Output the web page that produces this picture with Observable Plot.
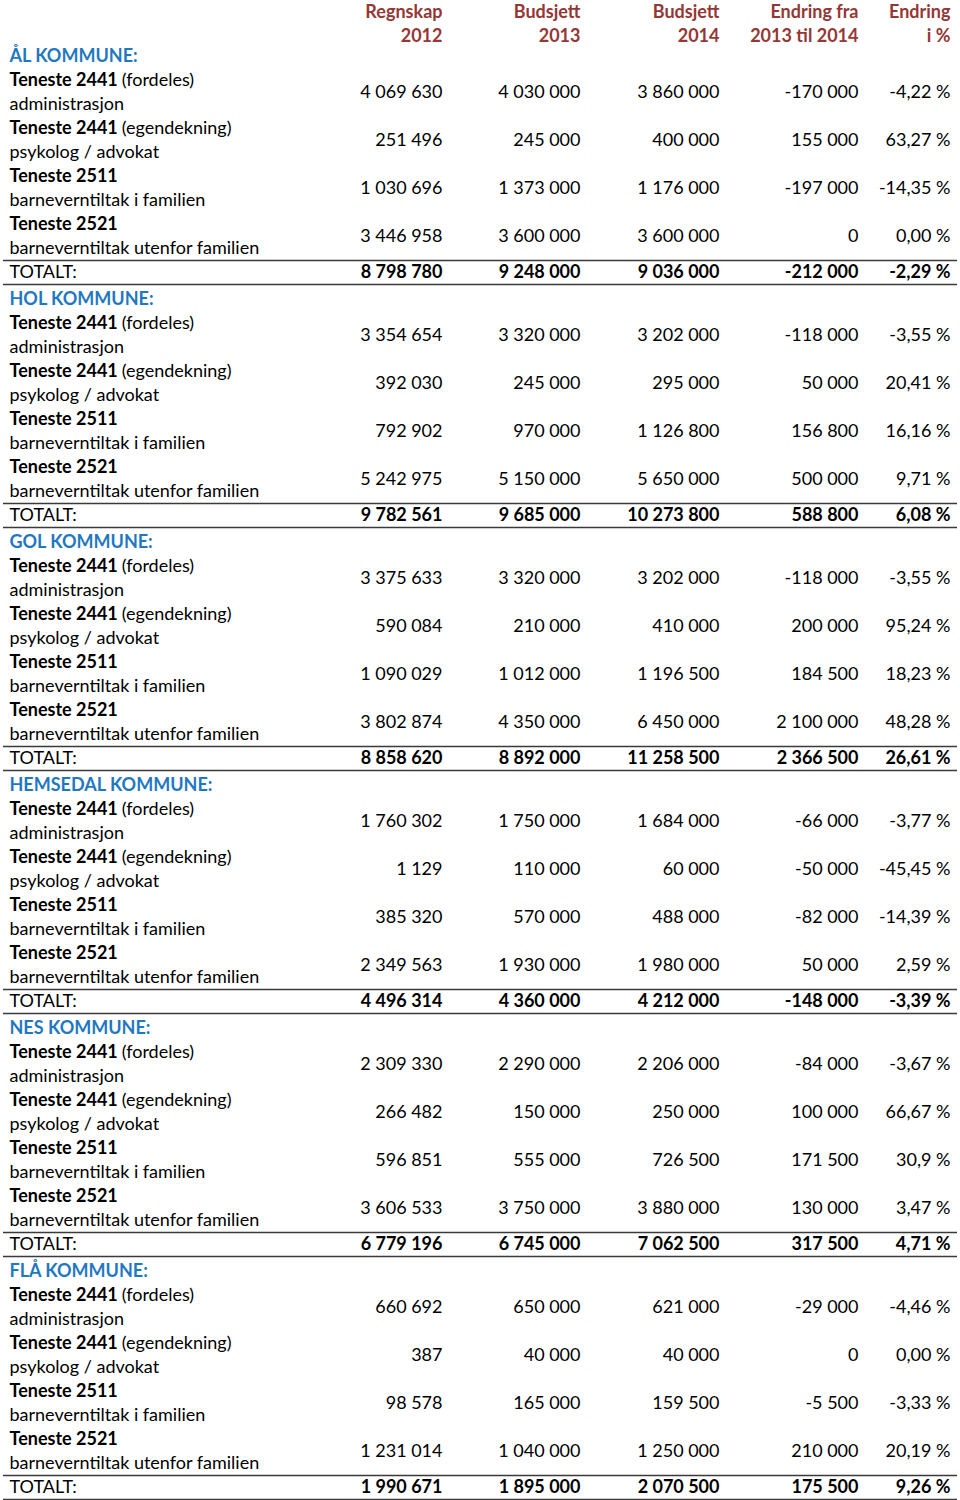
<!DOCTYPE html>
<html>
<head>
<meta charset="utf-8">
<script src="https://cdn.jsdelivr.net/npm/d3@7"></script>
<script src="https://cdn.jsdelivr.net/npm/@observablehq/plot@0.6"></script>
<style>
  html, body { margin: 0; padding: 0; background: #fff; }
  #chart svg { display: block; }
</style>
</head>
<body>
<div id="chart"></div>
<script>
// ---------- DATA ----------
const kommuner = ["ÅL KOMMUNE:", "HOL KOMMUNE:", "GOL KOMMUNE:", "HEMSEDAL KOMMUNE:", "NES KOMMUNE:", "FLÅ KOMMUNE:"];
const tenesteCodes = ["Teneste 2441", "Teneste 2441", "Teneste 2511", "Teneste 2521"];
const tenesteSuffix = ["(fordeles)", "(egendekning)", "", ""];
const tenesteSecond = ["administrasjon", "psykolog / advokat", "barneverntiltak i familien", "barneverntiltak utenfor familien"];
const columnHeads1 = ["Regnskap", "Budsjett", "Budsjett", "Endring fra", "Endring"];
const columnHeads2 = ["2012", "2013", "2014", "2013 til 2014", "i %"];
const totalLabel = "TOTALT:";

// per kommune, 4 teneste rows each
const regnskap2012 = [4069630, 251496, 1030696, 3446958,  3354654, 392030, 792902, 5242975,  3375633, 590084, 1090029, 3802874,  1760302, 1129, 385320, 2349563,  2309330, 266482, 596851, 3606533,  660692, 387, 98578, 1231014];
const budsjett2013 = [4030000, 245000, 1373000, 3600000,  3320000, 245000, 970000, 5150000,  3320000, 210000, 1012000, 4350000,  1750000, 110000, 570000, 1930000,  2290000, 150000, 555000, 3750000,  650000, 40000, 165000, 1040000];
const budsjett2014 = [3860000, 400000, 1176000, 3600000,  3202000, 295000, 1126800, 5650000,  3202000, 410000, 1196500, 6450000,  1684000, 60000, 488000, 1980000,  2206000, 250000, 726500, 3880000,  621000, 40000, 159500, 1250000];
const endring = [-170000, 155000, -197000, 0,  -118000, 50000, 156800, 500000,  -118000, 200000, 184500, 2100000,  -66000, -50000, -82000, 50000,  -84000, 100000, 171500, 130000,  -29000, 0, -5500, 210000];
const endringPct = ["-4,22", "63,27", "-14,35", "0,00",  "-3,55", "20,41", "16,16", "9,71",  "-3,55", "95,24", "18,23", "48,28",  "-3,77", "-45,45", "-14,39", "2,59",  "-3,67", "66,67", "30,9", "3,47",  "-4,46", "0,00", "-3,33", "20,19"];

const totRegnskap2012 = [8798780, 9782561, 8858620, 4496314, 6779196, 1990671];
const totBudsjett2013 = [9248000, 9685000, 8892000, 4360000, 6745000, 1895000];
const totBudsjett2014 = [9036000, 10273800, 11258500, 4212000, 7062500, 2070500];
const totEndring = [-212000, 588800, 2366500, -148000, 317500, 175500];
const totEndringPct = ["-2,29", "6,08", "26,61", "-3,39", "4,71", "9,26"];

// ---------- LAYOUT / STYLE ----------
const FONT = "Lato, 'Open Sans', sans-serif";
const FS = 18;
const colRight = [442, 580, 719, 858, 950];   // right edge of each numeric column (px)
const labelX = 9;
const sectionLines = 243 / 24;                // one kommune block in line units
const RED = "#953735", BLUE = "#1f78c1", RULE = "#3a3a3a";

const loc = d3.formatLocale({decimal: ",", thousands: "\u00a0", grouping: [3], currency: ["", ""], minus: "-"});
const fmtInt = loc.format(",d");
const fmtNum = v => fmtInt(v).replace(/\u00a0/g, " ");
const fmtPct = s => s + " %";

// measure bold code width to place the normal-weight suffix
const ctx = document.createElement("canvas").getContext("2d");
ctx.font = `bold ${FS}px Lato`;
const boldW = t => ctx.measureText(t).width;
ctx.font = `${FS}px Lato`;
const spaceW = ctx.measureText(" ").width;

// ---------- BUILD TABLE ROWS ----------
const cells = [];      // numeric cells
const labels = [];     // label texts
const rules = [];
const colsData = [regnskap2012, budsjett2013, budsjett2014, endring];
const colsTot = [totRegnskap2012, totBudsjett2013, totBudsjett2014, totEndring];

kommuner.forEach((k, s) => {
  const base = s * sectionLines;
  labels.push({text: k, x: labelX, u: base, weight: "bold", fill: BLUE});
  tenesteCodes.forEach((code, r) => {
    const i = s * 4 + r;
    const u1 = base + 1 + r * 2;
    labels.push({text: code, x: labelX, u: u1, weight: "bold", fill: "#000"});
    if (tenesteSuffix[r]) labels.push({text: tenesteSuffix[r], x: labelX + boldW(code) + spaceW, u: u1, weight: "normal", fill: "#000"});
    labels.push({text: tenesteSecond[r], x: labelX, u: u1 + 1, weight: "normal", fill: "#000"});
    colsData.forEach((arr, c) => cells.push({text: fmtNum(arr[i]), col: c, u: u1 + 0.5, weight: "normal"}));
    cells.push({text: fmtPct(endringPct[i]), col: 4, u: u1 + 0.5, weight: "normal"});
  });
  const ut = base + 9;
  labels.push({text: totalLabel, x: labelX, u: ut, weight: "normal", fill: "#000"});
  colsTot.forEach((arr, c) => cells.push({text: fmtNum(arr[s]), col: c, u: ut, weight: "bold"}));
  cells.push({text: fmtPct(totEndringPct[s]), col: 4, u: ut, weight: "bold"});
  rules.push({u: ut - 0.5}, {u: ut + 0.5});
});

const heads = [];
columnHeads1.forEach((h, c) => {
  heads.push({text: h, col: c, u: -2});
  heads.push({text: columnHeads2[c], col: c, u: -1});
});

// ---------- PLOT ----------
const W = 960, H = 1500;
const y0 = 56; // px of first kommune line
const chart = Plot.plot({
  width: W,
  height: H,
  margin: 0,
  style: {fontFamily: FONT, fontSize: FS + "px", background: "#fff"},
  x: {type: "linear", domain: [0, W], range: [0, W], axis: null},
  y: {type: "linear", domain: [-y0 / 24, (H - y0) / 24], range: [0, H], axis: null},
  marks: [
    Plot.ruleY(rules, {y: "u", x1: 3, x2: 957, stroke: RULE, strokeWidth: 1.6}),
    Plot.text(heads, {text: "text", x: d => colRight[d.col], y: "u", dy: 4, textAnchor: "end", fill: RED, fontWeight: "bold", fontSize: FS}),
    Plot.text(labels.filter(d => d.weight === "bold"), {text: "text", x: "x", y: "u", textAnchor: "start", fill: "fill", fontWeight: "bold", fontSize: FS}),
    Plot.text(labels.filter(d => d.weight !== "bold"), {text: "text", x: "x", y: "u", textAnchor: "start", fill: "fill", fontSize: FS}),
    Plot.text(cells.filter(d => d.weight === "bold"), {text: "text", x: d => colRight[d.col], y: "u", textAnchor: "end", fill: "#000", fontWeight: "bold", fontSize: FS}),
    Plot.text(cells.filter(d => d.weight !== "bold"), {text: "text", x: d => colRight[d.col], y: "u", textAnchor: "end", fill: "#000", fontSize: FS})
  ]
});
document.getElementById("chart").append(chart);
</script>
</body>
</html>
